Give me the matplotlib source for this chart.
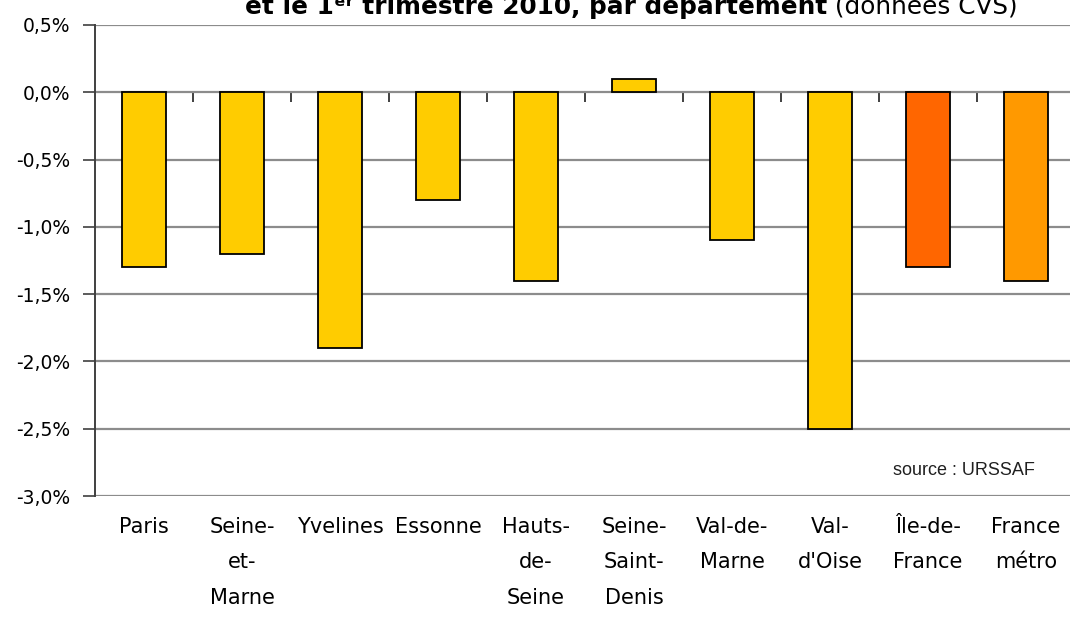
import matplotlib
matplotlib.use("Agg")
import matplotlib.pyplot as plt
import numpy as np
from matplotlib.ticker import FuncFormatter, MultipleLocator

# libellés et valeurs (évolution en %)
departements = [
    "Paris", "Seine-\net-\nMarne", "Yvelines", "Essonne", "Hauts-\nde-\nSeine",
    "Seine-\nSaint-\nDenis", "Val-de-\nMarne", "Val-\nd'Oise", "Île-de-\nFrance", "France\nmétro",
]
evolution = [-1.3, -1.2, -1.9, -0.8, -1.4, 0.1, -1.1, -2.5, -1.3, -1.4]
couleurs = ["#FFCC00"] * 8 + ["#FF6600", "#FF9900"]

titre_gras = "et le 1ᵉʳ trimestre 2010, par département"
titre_normal = " (données CVS)"
source = "source : URSSAF"

fig = plt.figure(figsize=(10.70, 6.31), dpi=100)
ax = fig.add_axes([95 / 1070, 1 - 496 / 631, 980 / 1070, 471 / 631])

x = np.arange(len(departements))
ax.bar(x, evolution, width=0.44, color=couleurs, edgecolor="black",
       linewidth=1.3, zorder=3)

ax.set_xlim(-0.5, len(departements) - 0.5)
ax.set_ylim(-3.0, 0.5)
ax.yaxis.set_major_locator(MultipleLocator(0.5))
ax.yaxis.set_major_formatter(FuncFormatter(lambda v, p: f"{v:.1f}%".replace(".", ",")))
ax.grid(axis="y", color="#8c8c8c", linewidth=1.6, zorder=1)
ax.set_axisbelow(True)

for s in ["top", "right", "bottom"]:
    ax.spines[s].set_visible(False)
ax.spines["left"].set_color("#404040")
ax.spines["left"].set_linewidth(1.4)
ax.spines["left"].set_zorder(4)

ax.tick_params(axis="y", length=9, width=1.2, color="#404040", pad=9,
               labelsize=13.5)
ax.set_xticks(x)
ax.set_xticklabels(departements, fontsize=15, linespacing=1.97,
                   family="DejaVu Sans")
ax.tick_params(axis="x", length=0, pad=15)

# petits traits de séparation sur l'axe 0
ymin, ymax = ax.get_ylim()
sec = ax.secondary_xaxis((0 - ymin) / (ymax - ymin))
sec.set_xticks(x[1:] - 0.5)
sec.set_xticklabels([])
sec.tick_params(axis="x", direction="in", length=7, width=1.2, color="#202020")
sec.spines["bottom"].set_visible(False)
sec.spines["top"].set_visible(False)

ax.text(0.959, 0.045, source, transform=ax.transAxes, ha="right", va="baseline",
        fontsize=13, family="Liberation Sans", color="#202020")

# titre (coupé en haut dans l'original)
t1 = fig.text(245 / 1070, 1 - 14 / 631, titre_gras, fontsize=17.8,
              fontweight="bold", ha="left", va="baseline")
fig.canvas.draw()
bb = t1.get_window_extent()
fig.text(bb.x1 / fig.bbox.width, 1 - 14 / 631, titre_normal, fontsize=17.8,
         ha="left", va="baseline")

fig.savefig("out.png", dpi=100, facecolor="white")
